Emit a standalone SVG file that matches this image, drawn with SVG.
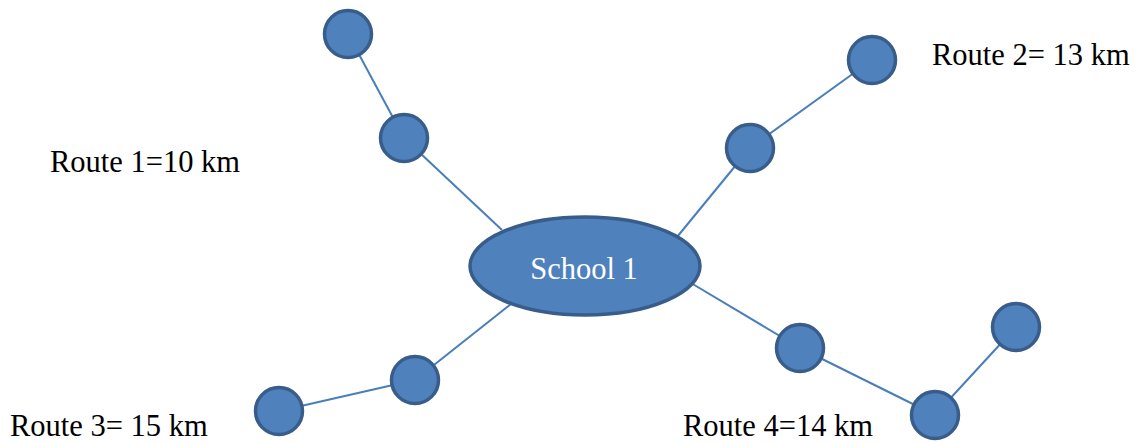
<svg xmlns="http://www.w3.org/2000/svg" width="1143" height="443" viewBox="0 0 1143 443">
  <style>
    .stop { fill: #4f81bd; stroke: #385d8a; stroke-width: 3.5; }
    .link { stroke: #4a7ebb; stroke-width: 2; fill: none; }
    .label { font-family: "Liberation Serif", "Times New Roman", serif; font-size: 30.5px; fill: #000; }
    .hub-text { font-family: "Liberation Serif", "Times New Roman", serif; font-size: 30.5px; fill: #fff; text-anchor: middle; }
  </style>
  <rect width="1143" height="443" fill="#fff"/>

  <!-- route connectors -->
  <g id="connectors">
    <line class="link" x1="348" y1="34" x2="404" y2="138"/>
    <line class="link" x1="404" y1="138" x2="502" y2="230"/>
    <line class="link" x1="677" y1="237" x2="750" y2="148"/>
    <line class="link" x1="750" y1="148" x2="872" y2="60"/>
    <line class="link" x1="511" y1="304" x2="415" y2="380"/>
    <line class="link" x1="415" y1="380" x2="279" y2="411"/>
    <line class="link" x1="691" y1="283" x2="800" y2="348"/>
    <line class="link" x1="800" y1="348" x2="935" y2="415"/>
    <line class="link" x1="935" y1="415" x2="1016" y2="327"/>
  </g>

  <!-- hub -->
  <g id="school1">
    <ellipse class="stop" cx="585" cy="266" rx="115" ry="49"/>
    <text class="hub-text" x="584" y="279">School 1</text>
  </g>

  <!-- route 1 stops -->
  <g id="r1-stop2"><circle class="stop" cx="348" cy="34" r="23.5"/></g>
  <g id="r1-stop1"><circle class="stop" cx="404" cy="138" r="23.5"/></g>

  <!-- route 2 stops -->
  <g id="r2-stop1"><circle class="stop" cx="750" cy="148" r="23.5"/></g>
  <g id="r2-stop2"><circle class="stop" cx="872" cy="60" r="23.5"/></g>

  <!-- route 3 stops -->
  <g id="r3-stop1"><circle class="stop" cx="415" cy="380" r="23.5"/></g>
  <g id="r3-stop2"><circle class="stop" cx="279" cy="411" r="23.5"/></g>

  <!-- route 4 stops -->
  <g id="r4-stop1"><circle class="stop" cx="800" cy="348" r="23.5"/></g>
  <g id="r4-stop2"><circle class="stop" cx="935" cy="415" r="23.5"/></g>
  <g id="r4-stop3"><circle class="stop" cx="1016" cy="327" r="23.5"/></g>

  <!-- route labels -->
  <g id="labels">
    <text class="label" x="50" y="172">Route 1=10 km</text>
    <text class="label" x="932" y="65">Route 2= 13 km</text>
    <text class="label" x="10" y="436">Route 3= 15 km</text>
    <text class="label" x="683" y="436">Route 4=14 km</text>
  </g>
</svg>
